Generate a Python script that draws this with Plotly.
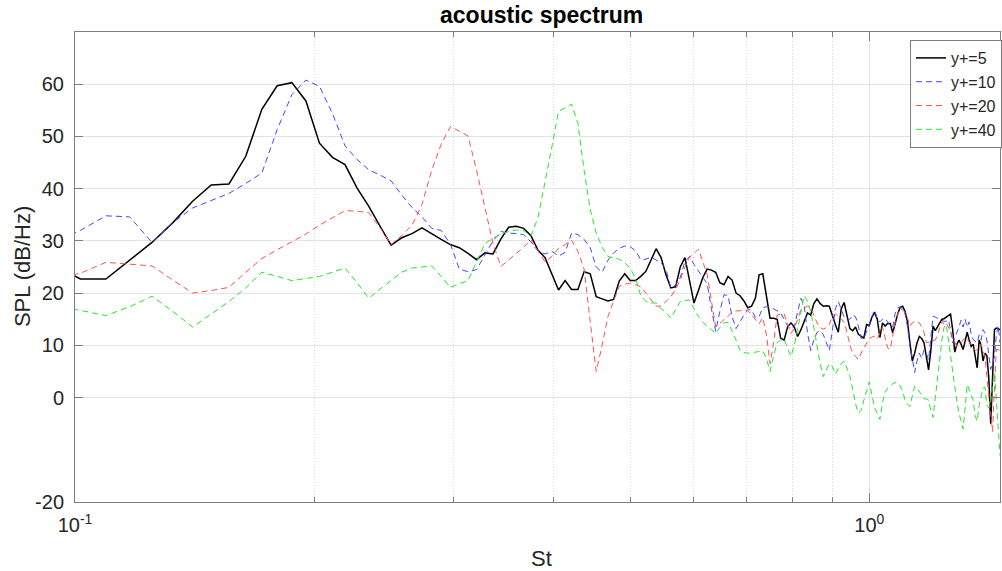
import numpy as np
import plotly.graph_objects as go

# Strouhal number grid: bins 12..188 of a 1/128 frequency resolution
bins = np.arange(12, 189)
st = bins / 128.0

# SPL (dB/Hz) per wall-normal location
spl_y5 = [
    25.5, 22.7, 22.7, 26.3, 29.7, 33.5, 37.6, 40.7, 40.9, 46.2,
    55.2, 59.7, 60.3, 56.8, 48.7, 46.0, 44.6, 40.1, 36.6, 32.8,
    29.2, 30.6, 31.4, 32.5, 31.3, 30.3, 29.3, 28.7, 27.6, 26.4,
    27.7, 27.5, 30.4, 32.6, 32.8, 32.4, 31.0, 28.2, 26.8, 23.5,
    20.6, 22.4, 20.7, 20.7, 24.1, 23.7, 19.3, 18.9, 18.5, 18.8,
    22.3, 23.7, 22.4, 22.4, 23.2, 24.2, 26.5, 28.5, 26.8, 23.5,
    21.0, 21.2, 25.0, 26.8, 22.5, 18.1, 20.5, 23.0, 24.6, 24.4,
    24.0, 22.0, 21.6, 23.2, 22.5, 20.0, 19.5, 18.5, 17.2, 17.5,
    19.0, 23.5, 23.7, 19.0, 15.2, 15.2, 15.0, 11.4, 11.0, 13.5,
    14.3, 13.5, 11.7, 13.0, 14.5, 16.2, 15.8, 18.0, 18.9, 18.0,
    17.5, 17.6, 17.5, 15.6, 14.0, 12.5, 17.0, 18.2, 15.5, 13.2,
    12.8, 13.5, 12.1, 11.8, 11.4, 14.0, 13.8, 15.4, 16.3, 15.0,
    11.5, 14.3, 13.7, 14.2, 14.2, 12.4, 14.5, 16.0, 17.3, 17.5,
    16.5, 14.5, 10.5, 7.0, 8.5, 10.5, 11.7, 11.3, 10.5, 8.0,
    5.3, 9.0, 13.7, 12.8, 13.5, 14.3, 15.0, 15.1, 15.4, 15.7,
    16.0, 13.0, 8.7, 10.2, 11.0, 10.2, 9.2, 10.8, 12.5, 11.0,
    9.8, 10.2, 8.0, 5.7, 11.0, 10.0, 7.0, 8.5, 8.0, 3.8,
    -5.0, 5.4, 13.0, 13.3, 13.2, 13.0, 12.5,
]

spl_y10 = [
    29.5, 32.0, 34.8, 34.6, 29.7, 33.5, 36.3, 37.7, 39.1, 41.0,
    43.0, 51.3, 58.0, 60.8, 59.6, 54.4, 48.2, 45.6, 43.6, 42.6,
    41.5, 38.8, 36.4, 34.6, 32.4, 32.0, 29.4, 24.6, 24.1, 24.5,
    27.3, 30.0, 31.8, 31.5, 31.4, 31.2, 29.8, 28.0, 27.5, 28.0,
    27.1, 27.8, 31.5, 31.2, 30.3, 28.7, 25.0, 24.0, 26.3, 27.7,
    28.6, 29.0, 28.9, 28.1, 26.4, 26.5, 26.9, 26.4, 25.8, 24.6,
    21.0, 21.5, 23.0, 26.0, 27.0, 25.5, 24.3, 23.0, 21.8, 17.0,
    12.7, 16.5, 19.7, 19.5, 15.5, 13.2, 14.6, 15.8, 16.8, 16.8,
    15.3, 15.5, 17.2, 17.4, 17.4, 17.0, 16.6, 16.2, 15.0, 13.7,
    13.2, 13.5, 16.5, 19.0, 17.5, 12.5, 9.0, 11.0, 12.5, 12.8,
    12.1, 10.5, 9.0, 12.8, 17.0, 18.4, 16.8, 15.4, 14.8, 15.0,
    15.8, 15.5, 13.7, 11.3, 11.3, 12.5, 14.0, 15.5, 16.8, 15.0,
    14.5, 15.0, 15.2, 14.5, 13.6, 13.5, 16.2, 17.2, 17.3, 17.1,
    16.0, 13.5, 9.8, 7.5, 4.8, 7.0, 8.5, 7.5, 9.1, 8.5,
    7.2, 11.5, 15.6, 15.4, 15.2, 15.0, 14.8, 14.6, 14.6, 14.9,
    13.0, 10.5, 11.5, 12.4, 13.5, 14.8, 13.5, 15.0, 13.5, 14.5,
    12.0, 11.1, 10.8, 10.5, 12.0, 11.0, 13.0, 12.4, 11.0, 8.0,
    5.4, 6.5, 7.9, 12.0, 13.7, 10.5, 10.0,
]

spl_y20 = [
    22.8, 23.8, 25.9, 25.5, 25.2, 22.5, 20.0, 20.5, 21.1, 24.0,
    26.6, 28.3, 29.8, 31.3, 33.0, 34.4, 35.8, 35.7, 35.4, 32.5,
    29.3, 31.0, 33.0, 37.0, 43.5, 48.5, 51.9, 51.0, 50.1, 43.5,
    36.5, 29.5, 25.1, 26.3, 27.5, 28.8, 30.2, 28.0, 26.0, 27.0,
    28.6, 29.3, 30.1, 28.0, 24.6, 14.5, 5.0, 10.0, 15.5, 18.5,
    21.3, 21.7, 21.9, 21.6, 21.2, 20.0, 18.8, 17.5, 17.5, 18.5,
    19.3, 20.7, 22.5, 25.0, 26.8, 27.6, 28.4, 26.0, 23.6, 18.5,
    13.6, 14.2, 15.0, 15.6, 16.3, 16.6, 16.6, 16.8, 16.7, 15.8,
    14.8, 14.1, 15.3, 12.0, 6.5, 10.5, 15.8, 16.0, 16.0, 14.0,
    12.3, 13.2, 15.0, 16.8, 17.2, 17.5, 17.2, 15.8, 14.3, 13.4,
    13.1, 13.4, 14.0, 15.7, 16.0, 15.6, 15.0, 14.5, 12.5, 10.0,
    8.5, 7.8, 7.3, 8.5, 9.5, 10.5, 11.3, 11.6, 11.7, 11.2,
    12.5, 13.5, 11.5, 9.5, 9.2, 12.0, 14.5, 16.0, 17.0, 16.8,
    16.3, 15.2, 13.7, 14.3, 14.6, 14.6, 14.3, 13.5, 12.5, 10.5,
    10.6, 10.8, 10.9, 11.0, 12.0, 13.5, 14.6, 14.0, 14.3, 13.5,
    12.8, 11.5, 10.5, 9.8, 10.2, 10.5, 11.0, 11.5, 11.2, 10.5,
    9.8, 9.4, 9.0, 9.2, 9.7, 10.2, 9.0, 7.9, 4.0, 0.5,
    -3.0, -6.5, 2.0, 9.2, 9.2, 9.0, 9.0,
]

spl_y40 = [
    17.5, 16.7, 15.7, 17.4, 19.4, 16.5, 13.5, 16.0, 18.4, 21.0,
    24.0, 23.2, 22.4, 22.8, 23.2, 24.0, 24.8, 22.0, 19.0, 20.8,
    22.5, 24.0, 24.8, 25.0, 25.2, 23.2, 21.1, 21.8, 22.4, 26.0,
    29.5, 30.5, 31.3, 31.8, 32.1, 32.0, 30.9, 34.5, 41.0, 48.0,
    54.8, 55.5, 56.2, 52.5, 43.5, 36.0, 31.5, 28.8, 27.0, 26.8,
    26.5, 25.8, 24.8, 22.8, 19.5, 18.4, 18.1, 18.1, 17.0, 16.3,
    15.2, 16.8, 18.4, 18.6, 18.7, 17.0, 15.5, 14.5, 13.6, 13.0,
    12.3, 13.4, 14.3, 14.4, 12.8, 11.0, 9.0, 8.6, 8.5, 8.6,
    8.7, 8.8, 8.9, 7.5, 5.0, 8.0, 10.5, 11.0, 11.2, 9.5,
    7.9, 10.0, 13.0, 16.0, 19.5, 18.5, 16.5, 13.4, 9.5, 6.5,
    4.0, 5.2, 6.5, 6.0, 4.5, 5.5, 6.5, 7.0, 5.5, 4.1,
    1.5, -1.2, -3.0, -2.5, -0.5, 1.5, 3.0, 0.5, -2.0, -3.0,
    -4.2, -1.0, 1.0, 1.8, 2.3, 2.6, 2.9, 2.8, 2.2, 1.2,
    -0.5, -1.3, -1.7, 0.5, 2.2, 1.8, 1.1, 0.5, -0.2, -0.3,
    -0.5, -2.5, -3.8, 0.0, 3.8, 7.0, 11.0, 13.5, 14.0, 11.0,
    8.0, 4.5, 2.0, -0.8, -3.0, -4.5, -6.0, -2.0, 2.5, 1.5,
    0.5, -0.5, -3.5, -4.5, -1.5, 0.5, 1.8, 2.0, -1.5, -2.0,
    -1.0, 2.5, 4.7, -0.5, -6.0, -11.0, -12.0,
]

series = [
    ("y+=5", spl_y5, "#000000", 1.5, "solid"),
    ("y+=10", spl_y10, "rgb(70,70,255)", 1.0, "6px,4px"),
    ("y+=20", spl_y20, "rgb(255,80,80)", 1.0, "6px,4px"),
    ("y+=40", spl_y40, "rgb(40,230,40)", 1.0, "6px,4px"),
]

y_ticks = [-20, 0, 10, 20, 30, 40, 50, 60]
x_major = [0.1, 1.0]
x_major_text = ["10<sup>-1</sup>", "10<sup>0</sup>"]
x_minor = [0.2, 0.3, 0.4, 0.5, 0.6, 0.7, 0.8, 0.9]

font_family = "Liberation Sans, Arial, Helvetica, sans-serif"
axis_color = "#7d7d7d"
grid_color = "#e3e3e3"
minor_grid_color = "#d8d8d8"
text_color = "#262626"

fig = go.Figure()
for name, vals, color, width, dash in series:
    fig.add_trace(go.Scatter(
        x=st, y=vals, mode="lines", name=name,
        line=dict(color=color, width=width, dash=dash),
    ))

W, H = 1002, 571
ml, mr, mt, mb = 75, 0, 32, 69
decade_px = 796.0
x_hi = -1 + (W - ml - mr) / decade_px

fig.update_layout(
    width=W, height=H,
    margin=dict(l=ml, r=mr, t=mt, b=mb, pad=0),
    paper_bgcolor="white", plot_bgcolor="white",
    font=dict(family=font_family, color=text_color),
    showlegend=True,
    legend=dict(
        x=(912 - ml) / (W - ml - mr), y=1 - (40 - mt) / (H - mt - mb),
        xanchor="left", yanchor="top",
        bgcolor="white", bordercolor=axis_color, borderwidth=1,
        font=dict(size=16, color=text_color, family=font_family),
        itemwidth=30,
    ),
    xaxis=dict(
        type="log", range=[-1, x_hi],
        tickmode="array", tickvals=x_major, ticktext=x_major_text,
        tickfont=dict(size=20),
        ticks="inside", ticklen=9, tickcolor=axis_color, tickwidth=1,
        ticklabelstandoff=5,
        showline=True, linecolor=axis_color, linewidth=1, mirror="ticks",
        showgrid=True, gridcolor=grid_color, gridwidth=1,
        zeroline=False,
        minor=dict(
            tickmode="array", tickvals=x_minor,
            ticks="inside", ticklen=5, tickcolor=axis_color,
            showgrid=True, gridcolor=minor_grid_color, griddash="1px,2px",
            gridwidth=1,
        ),
    ),
    yaxis=dict(
        range=[-20, 70],
        tickmode="array", tickvals=y_ticks, ticktext=[str(v) for v in y_ticks],
        tickfont=dict(size=20),
        ticks="inside", ticklen=8, tickcolor=axis_color, tickwidth=1,
        ticklabelstandoff=6,
        showline=True, linecolor=axis_color, linewidth=1, mirror="ticks",
        showgrid=True, gridcolor=grid_color, gridwidth=1,
        zeroline=False,
    ),
    annotations=[
        dict(text="<b>acoustic spectrum</b>", xref="paper", yref="paper",
             x=(543 - ml) / (W - ml - mr), y=1 + (mt - 14.5) / (H - mt - mb),
             xanchor="center", yanchor="middle", showarrow=False,
             font=dict(size=23, color="#000000")),
        dict(text="St", xref="paper", yref="paper",
             x=(543 - ml) / (W - ml - mr), y=-(558 - (H - mb)) / (H - mt - mb),
             xanchor="center", yanchor="middle", showarrow=False,
             font=dict(size=22, color=text_color)),
        dict(text="SPL (dB/Hz)", xref="paper", yref="paper", textangle=-90,
             x=-(ml - 22) / (W - ml - mr), y=0.5,
             xanchor="center", yanchor="middle", showarrow=False,
             font=dict(size=22, color=text_color)),
    ],
)

fig.write_html("out.html")
